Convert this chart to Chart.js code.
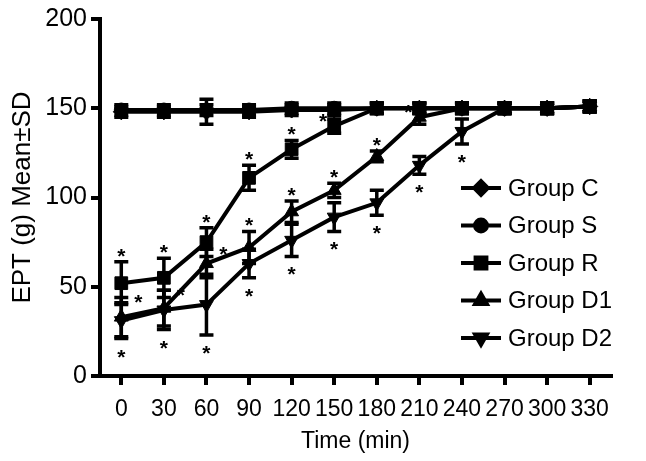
<!DOCTYPE html>
<html>
<head>
<meta charset="utf-8">
<script src="https://cdn.jsdelivr.net/npm/chart.js@4.4.0/dist/chart.umd.min.js"></script>
<style>
  html, body { margin: 0; padding: 0; background: #fff; }
</style>
</head>
<body>
<canvas id="eptChart" width="646" height="461"></canvas>
<script>
// time points (min)
const times = [0, 30, 60, 90, 120, 150, 180, 210, 240, 270, 300, 330];
const xTicks = [0, 30, 60, 90, 120, 150, 180, 210, 240, 270, 300, 330];
const yTicks = [0, 50, 100, 150, 200];

const groupNames = ['Group C', 'Group S', 'Group R', 'Group D1', 'Group D2'];

// means
const groupC  = [148, 148, 148, 148, 149, 149, 150, 150, 150, 150, 150, 151];
const groupS  = [149, 149, 149, 149, 150, 150, 150, 150, 150, 150, 150, 151];
const groupR  = [52, 55, 75, 111, 127, 140, 150, 150, 150, 150, 150, 151];
const groupD1 = [33, 38, 63, 72, 92, 104, 123, 145, 150, 150, 150, 151];
const groupD2 = [31, 37, 40, 63, 76, 89, 97, 118, 137, 150, 150, 151];

// standard deviations
const sdC  = [3, 3, 7, 3, 3, 3, 3, 3, 3, 3, 3, 3];
const sdS  = [3, 3, 3, 3, 3, 3, 3, 3, 3, 3, 3, 3];
const sdR  = [12, 11, 8, 7, 5, 4, 3, 3, 3, 3, 3, 3];
const sdD1 = [11, 10, 8, 9, 6, 4, 3, 4, 3, 3, 3, 3];
const sdD2 = [10, 11, 17, 8, 9, 8, 7, 5, 7, 3, 3, 3];

// significance marks: a = above, b = below, l = left, r = right
const starsC  = ['', '', '', '', '', '', '', '', '', '', '', ''];
const starsS  = ['', '', '', '', '', '', '', '', '', '', '', ''];
const starsR  = ['a', 'a', 'a', 'a', 'a', 'l', '', '', '', '', '', ''];
const starsD1 = ['r', 'r', 'r', 'a', 'a', 'a', 'a', 'l', '', '', '', ''];
const starsD2 = ['b', 'b', 'b', 'b', 'b', 'b', 'b', 'b', 'b', '', '', ''];

const FONT = '"Liberation Sans", Arial, Helvetica, sans-serif';

function series(label, vals, sd, stars, style, radius, rotation) {
    return {
        label: label,
        data: times.map((t, i) => ({x: t, y: vals[i]})),
        sd: sd,
        stars: stars,
        borderColor: '#000',
        backgroundColor: '#000',
        borderWidth: 4,
        pointStyle: style,
        pointRadius: radius,
        pointRotation: rotation || 0,
        pointBorderWidth: 1,
        pointBackgroundColor: '#000',
        pointBorderColor: '#000',
        tension: 0
    };
}

const errorBars = {
    id: 'errorBars',
    afterDatasetsDraw(chart) {
        const {ctx, scales: {x, y}} = chart;
        ctx.save();
        ctx.strokeStyle = '#000';
        ctx.lineWidth = 3.5;
        chart.data.datasets.forEach(ds => {
            ds.data.forEach((p, i) => {
                const px = x.getPixelForValue(p.x);
                const top = y.getPixelForValue(p.y + ds.sd[i]);
                const bot = y.getPixelForValue(p.y - ds.sd[i]);
                ctx.beginPath();
                ctx.moveTo(px, top); ctx.lineTo(px, bot);
                ctx.moveTo(px - 7, top); ctx.lineTo(px + 7, top);
                ctx.moveTo(px - 7, bot); ctx.lineTo(px + 7, bot);
                ctx.stroke();
            });
        });
        // asterisks
        ctx.fillStyle = '#000';
        ctx.font = 'bold 21px ' + FONT;
        ctx.textAlign = 'center';
        ctx.textBaseline = 'alphabetic';
        chart.data.datasets.forEach(ds => {
            ds.data.forEach((p, i) => {
                const pos = ds.stars[i];
                if (!pos) return;
                const px = x.getPixelForValue(p.x);
                const top = y.getPixelForValue(p.y + ds.sd[i]);
                const bot = y.getPixelForValue(p.y - ds.sd[i]);
                let sx = px, sy = top;
                if (pos === 'a') sy = top - 11;
                if (pos === 'b') sy = bot + 13;
                if (pos === 'r') { sx = px + 17; sy = top; }
                if (pos === 'l') { sx = px - 11; sy = top - 3; }
                ctx.fillText('*', sx, sy + 12);
            });
        });
        ctx.restore();
    },
    afterDraw(chart) {
        // legend: line with marker and label
        const ctx = chart.ctx;
        ctx.save();
        chart.data.datasets.forEach((ds, i) => {
            const ly = 188 + i * 37.5;
            ctx.strokeStyle = '#000';
            ctx.lineWidth = 4;
            ctx.beginPath();
            ctx.moveTo(461, ly); ctx.lineTo(501, ly);
            ctx.stroke();
            ctx.fillStyle = '#000';
            Chart.helpers.drawPoint(ctx, {
                pointStyle: ds.pointStyle,
                rotation: ds.pointRotation,
                radius: ds.pointRadius * 0.85,
                borderWidth: 1
            }, 481, ly);
            ctx.fill();
            ctx.font = '24px ' + FONT;
            ctx.textAlign = 'left';
            ctx.textBaseline = 'middle';
            ctx.fillText(ds.label, 508, ly + 1);
        });
        ctx.restore();
    }
};

const ctx = document.getElementById('eptChart');
window.eptChart = new Chart(ctx, {
    type: 'line',
    data: {
        datasets: [
            series(groupNames[0], groupC, sdC, starsC, 'rectRot', 8),
            series(groupNames[1], groupS, sdS, starsS, 'circle', 7),
            series(groupNames[2], groupR, sdR, starsR, 'rect', 9),
            series(groupNames[3], groupD1, sdD1, starsD1, 'triangle', 8),
            series(groupNames[4], groupD2, sdD2, starsD2, 'triangle', 8, 180)
        ]
    },
    options: {
        responsive: false,
        animation: false,
        devicePixelRatio: 1,
        layout: {padding: {top: 17, right: 35, left: 0, bottom: 0}},
        plugins: {
            legend: {display: false},
            tooltip: {enabled: false}
        },
        scales: {
            x: {
                type: 'linear',
                min: -15,
                max: 345,
                afterBuildTicks: s => { s.ticks = xTicks.map(v => ({value: v})); },
                afterFit: s => { s.height = 85; },
                border: {display: true, color: '#000', width: 4},
                grid: {display: true, drawOnChartArea: false, drawTicks: true, tickLength: 9, lineWidth: 4, color: '#000'},
                ticks: {color: '#000', font: {family: FONT, size: 23}, padding: 11, maxRotation: 0, autoSkip: false},
                title: {display: true, text: 'Time (min)', color: '#000', font: {family: FONT, size: 23}, padding: {top: 0, bottom: 6}}
            },
            y: {
                min: 0,
                max: 200,
                afterBuildTicks: s => { s.ticks = yTicks.map(v => ({value: v})); },
                afterFit: s => { s.width = 100; },
                border: {display: true, color: '#000', width: 4},
                grid: {display: true, drawOnChartArea: false, drawTicks: true, tickLength: 9, lineWidth: 4, color: '#000'},
                ticks: {color: '#000', font: {family: FONT, size: 25}, padding: 4},
                title: {display: true, text: 'EPT (g) Mean±SD', color: '#000', font: {family: FONT, size: 26}, padding: {top: 7, bottom: 0}}
            }
        }
    },
    plugins: [errorBars]
});
</script>
</body>
</html>
